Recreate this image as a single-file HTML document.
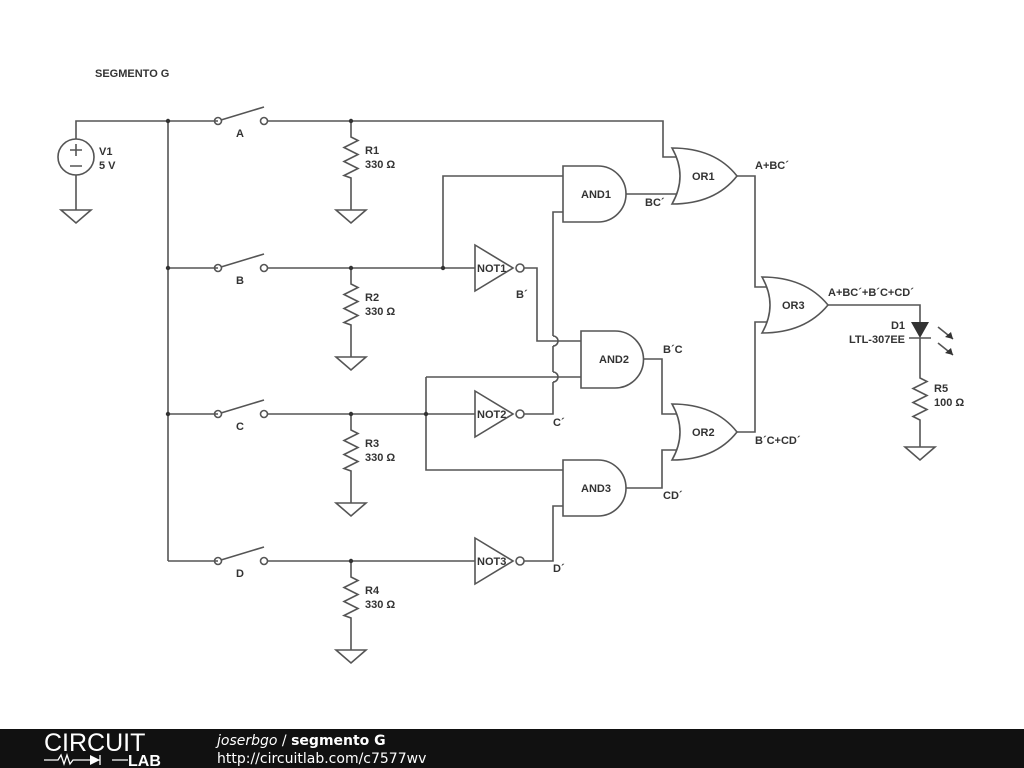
<!DOCTYPE html>
<html><head><meta charset="utf-8"><style>
html,body{margin:0;padding:0;background:#fff;width:1024px;height:768px;overflow:hidden}
svg{display:block}
text{font-family:"Liberation Sans",Arial,sans-serif;font-weight:bold;font-size:11px;fill:#333}
</style></head><body>
<svg width="1024" height="768" viewBox="0 0 1024 768">
<g fill="none" stroke="#555" stroke-width="1.6">
<path d="M76 139 V121 H218 M76 175 V210"/>
<circle cx="76" cy="157" r="18"/>
<path d="M70 150 H82 M76 144 V156 M70 166 H82"/>
<path d="M61 210 H91 L76 223 Z"/>
<path d="M168 121 V561"/>
<path d="M168 268 H218 M168 414 H218 M168 561 H218"/>
<g id="sw">
<circle cx="218" cy="121" r="3.5"/><circle cx="264" cy="121" r="3.5"/>
<path d="M221 120 L264 107"/>
</g>
<use href="#sw" y="147"/><use href="#sw" y="293"/><use href="#sw" y="440"/>
<g id="res">
<path d="M351 121 V137 L358 140.5 L344 147.5 L358 154.5 L344 161.5 L358 168.5 L344 175.5 L351 178 V210"/>
<path d="M336 210 H366 L351 223 Z"/>
</g>
<use href="#res" y="147"/><use href="#res" y="293"/><use href="#res" y="440"/>
<path d="M267 121 H663 V157 H677"/>
<path d="M267 268 H475 M443 268 V176 H563"/>
<path d="M267 414 H475 M426 377 V470 H563"/>
<path d="M426 377 H581"/>
<path d="M267 561 H475"/>
<g id="not"><path d="M475 245 L513 268 L475 291 Z"/><circle cx="520" cy="268" r="4"/></g>
<use href="#not" y="146"/><use href="#not" y="293"/>
<path d="M524 268 H537 V341 H581"/>
<path d="M524 414 H553 V382 M553 372 V346 M553 336 V212 H563"/>
<path d="M553 382 A5 5 0 0 0 553 372 M553 346 A5 5 0 0 0 553 336"/>
<path d="M524 561 H553 V506 H563"/>
<path d="M563 166 H598 A28 28 0 0 1 598 222 H563 Z"/>
<path d="M581 331 H615 A28.5 28.5 0 0 1 615 388 H581 Z"/>
<path d="M563 460 H598 A28 28 0 0 1 598 516 H563 Z"/>
<path d="M672 148 Q688 176 672 204 Q715 204 737 176 Q715 148 672 148 Z"/>
<path d="M672 404 Q688 432 672 460 Q715 460 737 432 Q715 404 672 404 Z"/>
<path d="M762 277 Q778 305 762 333 Q805 333 828 305 Q805 277 762 277 Z"/>
<path d="M626 194 H677"/>
<path d="M644 359 H662 V414 H677"/>
<path d="M626 488 H662 V450 H677"/>
<path d="M737 176 H755 V287 H767"/>
<path d="M737 432 H755 V322 H767"/>
<path d="M828 305 H920 V322 M920 338 V378 L927 381.5 L913 388.5 L927 395.5 L913 402.5 L927 409.5 L913 416.5 L920 420 V447"/>
<path d="M905 447 H935 L920 460 Z"/>
<path d="M909 338 H931"/>
<path d="M938 327 L953 339 M938 343 L953 355"/>
</g>
<path d="M911 322 H929 L920 338 Z" fill="#333"/>
<path d="M953 339 L945 337 L951 332 Z M953 355 L945 353 L951 348 Z" fill="#333"/>
<g fill="#333">
<circle cx="168" cy="121" r="2.2"/><circle cx="168" cy="268" r="2.2"/><circle cx="168" cy="414" r="2.2"/>
<circle cx="351" cy="121" r="2.2"/><circle cx="351" cy="268" r="2.2"/><circle cx="351" cy="414" r="2.2"/><circle cx="351" cy="561" r="2.2"/>
<circle cx="443" cy="268" r="2.2"/><circle cx="426" cy="414" r="2.2"/>
</g>
<text x="95" y="77">SEGMENTO G</text>
<text x="99" y="155">V1</text><text x="99" y="169">5 V</text>
<text x="236" y="137">A</text><text x="236" y="284">B</text><text x="236" y="430">C</text><text x="236" y="577">D</text>
<text x="365" y="154">R1</text><text x="365" y="168">330 Ω</text>
<text x="365" y="301">R2</text><text x="365" y="315">330 Ω</text>
<text x="365" y="447">R3</text><text x="365" y="461">330 Ω</text>
<text x="365" y="594">R4</text><text x="365" y="608">330 Ω</text>
<text x="477" y="272">NOT1</text><text x="477" y="418">NOT2</text><text x="477" y="565">NOT3</text>
<text x="581" y="198">AND1</text><text x="599" y="363">AND2</text><text x="581" y="492">AND3</text>
<text x="692" y="180">OR1</text><text x="692" y="436">OR2</text><text x="782" y="309">OR3</text>
<text x="645" y="206">BC´</text><text x="516" y="298">B´</text><text x="663" y="353">B´C</text>
<text x="553" y="426">C´</text><text x="663" y="499">CD´</text><text x="553" y="572">D´</text>
<text x="755" y="169">A+BC´</text><text x="755" y="444">B´C+CD´</text>
<text x="828" y="296">A+BC´+B´C+CD´</text>
<text x="905" y="329" text-anchor="end">D1</text><text x="905" y="343" text-anchor="end">LTL-307EE</text>
<text x="934" y="392">R5</text><text x="934" y="406">100 Ω</text>
<rect x="0" y="729" width="1024" height="39" fill="#111"/>
<text x="44" y="751" style="font-weight:normal;font-size:25px;fill:#fff">CIRCUIT</text>
<path d="M44 760 H58 L61 755 L64 764 L67 755 L70 764 L73 760 H100 M100 755 V765 M112 760 H128" stroke="#fff" stroke-width="1.3" fill="none"/>
<path d="M90 755 L100 760 L90 765 Z" fill="#fff"/>
<text x="128" y="766" style="font-size:16px;fill:#fff">LAB</text>
<text x="217" y="745" style="font-size:14px;fill:#fff;font-weight:normal;font-family:'DejaVu Sans',sans-serif"><tspan font-style="italic">joserbgo</tspan> / <tspan font-weight="bold">segmento G</tspan></text>
<text x="217" y="763" style="font-size:14px;fill:#fff;font-weight:normal;font-family:'DejaVu Sans',sans-serif">http://circuitlab.com/c7577wv</text>
</svg>
</body></html>
